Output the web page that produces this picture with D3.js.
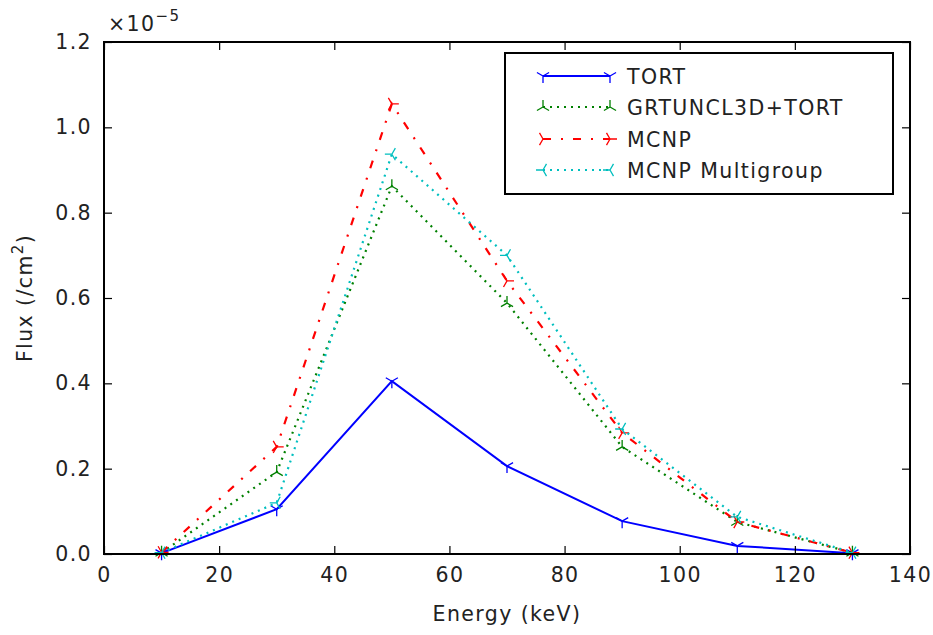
<!DOCTYPE html>
<html><head><meta charset="utf-8">
<script src="https://cdn.jsdelivr.net/npm/d3@7"></script>
<style>body{margin:0;background:#fff}svg{display:block}text{font-family:"DejaVu Sans",sans-serif;fill:#222;letter-spacing:1.4px}</style>
</head><body>
<script>
const energies = [10, 30, 50, 70, 90, 110, 130];
const tortVals = [0.002, 0.105, 0.405, 0.206, 0.077, 0.019, 0.002];
const grtVals = [0.003, 0.192, 0.862, 0.588, 0.251, 0.075, 0.003];
const mcnpVals = [0.004, 0.251, 1.055, 0.640, 0.284, 0.075, 0.003];
const mcnpMgVals = [0.003, 0.120, 0.937, 0.700, 0.293, 0.087, 0.003];
const seriesNames = ["TORT", "GRTUNCL3D+TORT", "MCNP", "MCNP Multigroup"];
const xTicks = [0, 20, 40, 60, 80, 100, 120, 140];
const yTicks = [0.0, 0.2, 0.4, 0.6, 0.8, 1.0, 1.2];

const W = 933, H = 635;
const m = {l: 104, r: 23, t: 42, b: 81};
const FS = 20.5;
const svg = d3.select("body").append("svg").attr("width", W).attr("height", H);
const x = d3.scaleLinear().domain([0, 140]).range([m.l, W - m.r]);
const y = d3.scaleLinear().domain([0, 1.2]).range([H - m.b, m.t]);

const series = [
  {name: seriesNames[0], vals: tortVals, color: "#0000ff", dash: null, width: 2, marker: "down"},
  {name: seriesNames[1], vals: grtVals, color: "#008000", dash: "2,5", width: 2.2, marker: "up"},
  {name: seriesNames[2], vals: mcnpVals, color: "#ff0000", dash: "8,10,2,10", width: 2.2, marker: "right"},
  {name: seriesNames[3], vals: mcnpMgVals, color: "#00bfbf", dash: "2,5", width: 2.2, marker: "left"}
];

function triPath(type, r) {
  let angles;
  if (type === "down") angles = [90, 210, 330];
  else if (type === "up") angles = [270, 30, 150];
  else if (type === "right") angles = [0, 120, 240];
  else angles = [180, 300, 60];
  return angles.map(a => {
    const rad = a * Math.PI / 180;
    return `M0,0L${(r * Math.cos(rad)).toFixed(2)},${(r * Math.sin(rad)).toFixed(2)}`;
  }).join("");
}

const line = d3.line().x(d => x(d[0])).y(d => y(d[1]));
const plot = svg.append("g");
series.forEach(s => {
  const pts = energies.map((e, i) => [e, s.vals[i]]);
  plot.append("path").attr("d", line(pts)).attr("fill", "none")
    .attr("stroke", s.color).attr("stroke-width", s.width)
    .attr("stroke-dasharray", s.dash);
  plot.selectAll(null).data(pts).enter().append("path")
    .attr("transform", d => `translate(${x(d[0])},${y(d[1])})`)
    .attr("d", triPath(s.marker, 7)).attr("stroke", s.color)
    .attr("stroke-width", 1.3).attr("fill", "none");
});

// frame
svg.append("rect").attr("x", m.l).attr("y", m.t).attr("width", W - m.r - m.l)
  .attr("height", H - m.b - m.t).attr("fill", "none").attr("stroke", "#000").attr("stroke-width", 2);

// axes with inward ticks
const xb = svg.append("g").attr("transform", `translate(0,${H - m.b})`)
  .call(d3.axisBottom(x).tickValues(xTicks).tickSize(-8).tickPadding(13).tickFormat(d3.format("d")));
const xt = svg.append("g").attr("transform", `translate(0,${m.t})`)
  .call(d3.axisTop(x).tickValues(xTicks).tickSize(-8).tickFormat(""));
const yl = svg.append("g").attr("transform", `translate(${m.l},0)`)
  .call(d3.axisLeft(y).tickValues(yTicks).tickSize(-8).tickPadding(12).tickFormat(d3.format(".1f")));
const yr = svg.append("g").attr("transform", `translate(${W - m.r},0)`)
  .call(d3.axisRight(y).tickValues(yTicks).tickSize(-8).tickFormat(""));
[xb, xt, yl, yr].forEach(g => {
  g.select(".domain").remove();
  g.selectAll(".tick line").attr("stroke", "#000").attr("stroke-width", 1.2);
  g.selectAll("text").attr("font-size", FS).attr("font-family", "DejaVu Sans").attr("fill", "#222");
});

// exponent
const ex = svg.append("text").attr("x", 108).attr("y", 31).attr("font-size", FS);
ex.append("tspan").text("×10");
ex.append("tspan").attr("dy", -10).attr("font-size", 15).text("−5");

// axis labels
svg.append("text").attr("x", (m.l + W - m.r) / 2).attr("y", 621).attr("text-anchor", "middle")
  .attr("font-size", FS).text("Energy (keV)");
const yt = svg.append("text").attr("transform", `translate(32,${(m.t + H - m.b) / 2}) rotate(-90)`)
  .attr("text-anchor", "middle").attr("font-size", FS);
yt.append("tspan").text("Flux (/cm");
yt.append("tspan").attr("dy", -9).attr("font-size", 15).text("2");
yt.append("tspan").attr("dy", 9).text(")");

// legend
const lg = svg.append("g");
lg.append("rect").attr("x", 505).attr("y", 53).attr("width", 388).attr("height", 141)
  .attr("fill", "#fff").attr("stroke", "#000").attr("stroke-width", 2);
const rowsY = [76, 107, 139, 170];
series.forEach((s, i) => {
  const yy = rowsY[i];
  lg.append("line").attr("x1", 543).attr("x2", 610).attr("y1", yy).attr("y2", yy)
    .attr("stroke", s.color).attr("stroke-width", s.width).attr("stroke-dasharray", s.dash);
  [543, 610].forEach(xx => lg.append("path").attr("transform", `translate(${xx},${yy})`)
    .attr("d", triPath(s.marker, 7)).attr("stroke", s.color).attr("stroke-width", 1.3).attr("fill", "none"));
  lg.append("text").attr("x", 627).attr("y", yy + 7.5).attr("font-size", FS).text(s.name);
});
</script>
</body></html>
